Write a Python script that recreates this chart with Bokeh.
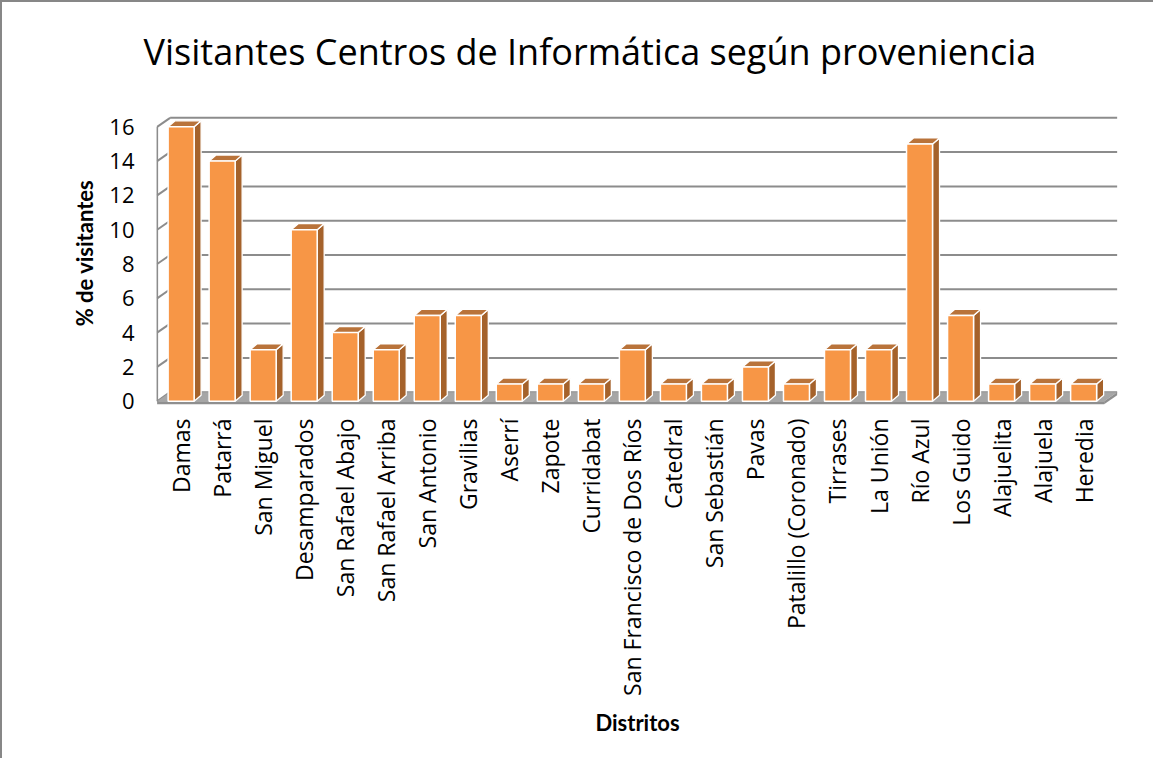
import math
from bokeh.plotting import figure
from bokeh.models import Range1d, FixedTicker, ColumnDataSource
from bokeh.embed import file_html
from bokeh.resources import INLINE

# ---------------- data ----------------
distritos = ["Damas", "Patarrá", "San Miguel", "Desamparados", "San Rafael Abajo",
             "San Rafael Arriba", "San Antonio", "Gravilias", "Aserrí", "Zapote",
             "Curridabat", "San Francisco de Dos Ríos", "Catedral", "San Sebastián",
             "Pavas", "Patalillo (Coronado)", "Tirrases", "La Unión", "Río Azul",
             "Los Guido", "Alajuelita", "Alajuela", "Heredia"]
porcentaje = [16, 14, 3, 10, 4, 3, 5, 5, 1, 1, 1, 3, 1, 1, 2, 1, 3, 3, 15, 5, 1, 1, 1]
y_ticks = [0, 2, 4, 6, 8, 10, 12, 14, 16]

titulo = "Visitantes Centros de Informática según proveniencia"
titulo_y = "% de visitantes"
titulo_x = "Distritos"

# ---------------- geometry (pixel scale helpers) ----------------
XPX = 41.03   # px per category
YPX = 17.11   # px per unit
bar_w = 26 / XPX
ddx, ddy = 7 / XPX, 6 / YPX        # bar depth
bdx, bdy = 13 / XPX, 9 / YPX       # back wall depth
n = len(distritos)
xL = -0.585
xR = n - 1 + 0.5
y_top = max(y_ticks)

W, H = 1153, 758
p = figure(width=W, height=H, output_backend="svg", toolbar_location=None,
           x_range=Range1d(-0.6, 22.85), y_range=Range1d(-0.25, 17.535),
           min_border_left=154, min_border_right=37, min_border_top=0,
           min_border_bottom=355)
p.styles = {"border-top": "2px solid #878787", "border-left": "2px solid #878787"}
p.outline_line_color = None
p.background_fill_color = "white"
p.border_fill_color = "white"
p.xgrid.visible = False
p.ygrid.visible = False

# title
p.title.text = titulo
p.title.text_font = "Open Sans"
p.title.text_font_style = "normal"
p.title.text_font_size = "36px"
p.title.text_color = "black"
p.title.align = "left"
p.title.vertical_align = "middle"
p.title.offset = -13
p.title.standoff = 47

# ---------------- back wall grid + left wall ----------------
gx0, gx1, gy = [], [], []
for v in y_ticks:
    gx0.append(xL + bdx); gx1.append(xR + bdx); gy.append(v + bdy)
p.segment(x0=gx0, y0=gy, x1=gx1, y1=gy, line_color="#8c8c8c", line_width=2)
# left wall diagonals
p.segment(x0=[xL] * len(y_ticks), y0=y_ticks, x1=[xL + bdx] * len(y_ticks),
          y1=[v + bdy for v in y_ticks], line_color="#8c8c8c", line_width=2)
p.segment(x0=[xL], y0=[0], x1=[xL], y1=[y_top], line_color="#8c8c8c", line_width=2)

# floor
p.patch(x=[xL, xR, xR + bdx, xL + bdx], y=[0, 0, bdy, bdy],
        fill_color="#a6a6a6", line_color=None)
p.patch(x=[xL, xR, xR, xL], y=[-0.18, -0.18, 0, 0],
        fill_color="#8f8f8f", line_color=None)
p.patch(x=[xR, xR + bdx, xR + bdx, xR], y=[-0.18, bdy - 0.18, bdy, 0],
        fill_color="#8f8f8f", line_color=None)

# ---------------- 3D bars ----------------
xs_side, ys_side, xs_top, ys_top = [], [], [], []
for i, v in enumerate(porcentaje):
    r = i + bar_w / 2
    l = i - bar_w / 2
    xs_side.append([r, r + ddx, r + ddx, r])
    ys_side.append([0, ddy, v + ddy, v])
    xs_top.append([l, r, r + ddx, l + ddx])
    ys_top.append([v, v, v + ddy, v + ddy])

p.patches(xs=xs_side, ys=ys_side, fill_color="#a5622b", line_color="white", line_width=1.3)
p.patches(xs=xs_top, ys=ys_top, fill_color="#b9733a", line_color="white", line_width=1.3)
src = ColumnDataSource(dict(x=list(range(n)), top=porcentaje))
p.vbar(x="x", top="top", bottom=0, width=bar_w, source=src,
       fill_color="#f79646", line_color="white", line_width=1.5)

# ---------------- axes ----------------
p.yaxis.ticker = FixedTicker(ticks=y_ticks)
p.yaxis.axis_line_color = None
p.yaxis.major_tick_line_color = None
p.yaxis.minor_tick_line_color = None
p.yaxis.major_label_text_font = "Open Sans"
p.yaxis.major_label_text_font_size = "22px"
p.yaxis.major_label_text_color = "black"
p.yaxis.major_label_standoff = 16
p.yaxis.axis_label = titulo_y
p.yaxis.axis_label_text_font = "Lato"
p.yaxis.axis_label_text_font_style = "bold"
p.yaxis.axis_label_text_font_size = "22px"
p.yaxis.axis_label_text_color = "black"
p.yaxis.axis_label_standoff = 8

p.xaxis.ticker = FixedTicker(ticks=list(range(n)))
p.xaxis.major_label_overrides = {i: d for i, d in enumerate(distritos)}
p.xaxis.major_label_orientation = math.pi / 2
p.xaxis.axis_line_color = None
p.xaxis.major_tick_line_color = None
p.xaxis.minor_tick_line_color = None
p.xaxis.major_label_text_font = "Open Sans"
p.xaxis.major_label_text_font_size = "23px"
p.xaxis.major_label_text_color = "black"
p.xaxis.major_label_standoff = 7
p.xaxis.axis_label = titulo_x
p.xaxis.axis_label_text_font = "Lato"
p.xaxis.axis_label_text_font_style = "bold"
p.xaxis.axis_label_text_font_size = "22px"
p.xaxis.axis_label_text_color = "black"
p.xaxis.axis_label_standoff = 10

open("out.html", "w").write(file_html(p, INLINE))
